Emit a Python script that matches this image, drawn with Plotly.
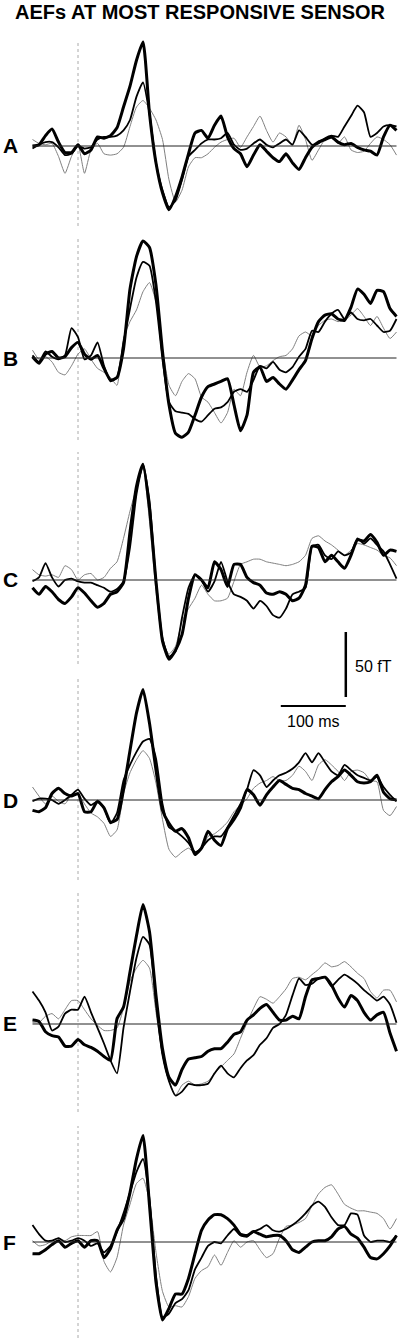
import plotly.graph_objects as go

# ---------------- data (fT, sampled every 10 ms from -70 to 490 ms) ----------------
TIME_MS = list(range(-70, 491, 10))

A_THICK = [0, 1, 8, 13, 3, -5, -5, 1, -6, -3,
           7, 6, 8, 14, 30, 46, 66, 80, 25, -13,
           -36, -49, -39, -24, -6, 10, 12, 6, 16, 23,
           7, -2, -6, -16, -7, 1, -4, -9, -12, -6,
           -13, -18, -9, -1, 3, 5, 7, 3, 1, 2,
           -1, -3, -4, -7, 7, 16, 12]
A_MED = [-2, 1, 3, 3, -1, -7, -6, 0, -2, -1,
         5, 7, 7, 8, 12, 20, 38, 49, 25, -13,
         -34, -47, -42, -26, -8, -3, 2, 5, 5, 6,
         10, 1, -3, -2, 2, 5, 1, -1, 2, 5,
         1, 12, 7, 1, 2, 6, 8, 7, 15, 23,
         31, 26, 7, 10, 15, 16, 15]
A_THIN = [5, 2, 1, 2, -8, -21, -8, 1, -21, -3,
          2, -6, -7, -6, -1, 15, 30, 35, 29, 20,
          5, -26, -43, -34, -16, -9, -9, -6, -1, 3,
          5, 6, -1, 7, 15, 23, 12, 3, 10, 7,
          1, 16, 5, -11, -3, 5, 6, 2, 7, -3,
          -5, -4, 2, 7, 5, 1, -7]

B_THICK = [1, -4, 3, 5, 0, 1, 8, 12, 3, -1,
           2, -8, -17, -15, 7, 53, 78, 90, 85, 56,
           5, -36, -58, -61, -57, -44, -30, -22, -20, -18,
           -16, -36, -56, -44, -11, -7, -18, -15, -20, -24,
           -17, -9, -2, 15, 28, 33, 34, 30, 29, 39,
           53, 49, 42, 52, 51, 38, 32]
B_MED = [2, -3, 5, 1, -1, 2, 23, 16, -1, 2,
         12, -6, -18, -15, 12, 38, 62, 74, 71, 43,
         -1, -34, -41, -42, -43, -47, -49, -44, -39, -38,
         -34, -26, -24, -26, -17, -6, -8, -3, -9, -11,
         -7, 1, 7, 21, 20, 28, 34, 37, 30, 35,
         30, 29, 30, 25, 20, 21, 30]
B_THIN = [6, -1, 1, -3, -11, -13, -6, 3, 7, -1,
          -8, -11, -15, -21, 15, 28, 37, 51, 58, 43,
          7, -21, -29, -18, -12, -16, -30, -34, -42, -50,
          -42, -24, -29, -11, 2, -7, -6, -2, 1, 2,
          7, 17, 20, 17, 25, 29, 30, 28, 29, 33,
          38, 32, 25, 32, 23, 15, 20]

C_THICK = [-6, -11, -5, -9, -15, -18, -13, -6, -10, -16,
           -21, -18, -11, -9, -2, 37, 72, 89, 55, -1,
           -47, -61, -54, -42, -14, 4, 0, -6, 14, 8,
           -5, 12, 12, 2, -2, -4, -10, -11, -9, -11,
           -16, -14, -4, 26, 25, 14, 19, 14, 9, 19,
           31, 30, 35, 29, 19, 23, 22]
C_MED = [-1, 2, 13, 2, -5, 0, 1, -1, -2, -2,
         -4, -6, -9, -7, -1, 25, 66, 89, 61, -1,
         -45, -59, -55, -29, -6, 4, 0, -9, -1, 14,
         -1, -11, -13, -16, -22, -16, -20, -27, -29, -22,
         -11, -9, -6, 26, 27, 19, 16, 22, 19, 21,
         32, 28, 32, 27, 22, 12, 1]
C_THIN = [8, 4, 3, 4, 2, 11, 8, 0, 4, 5,
          0, 2, 9, 14, 32, 53, 71, 87, 45, -9,
          -47, -57, -51, -32, -22, -14, -4, -11, -16, -16,
          -14, -1, 12, 14, 16, 16, 14, 13, 12, 11,
          12, 14, 19, 32, 34, 30, 27, 23, 19, 23,
          28, 27, 25, 23, 19, 17, 11]

D_THICK = [-8, -9, -6, 5, 9, 5, 3, 5, -9, -9,
           -1, -6, -17, -15, 8, 38, 67, 85, 59, 23,
           -8, -18, -24, -22, -29, -42, -37, -24, -31, -35,
           -22, -15, -6, 8, 4, -4, 4, 10, 15, 12,
           9, 8, 5, 3, 1, 8, 14, 18, 23, 19,
           14, 13, 14, 19, 6, 1, 0]
D_MED = [-1, 1, 1, 0, -3, 0, 4, 8, 1, -4,
         -1, -6, -18, -10, 15, 27, 37, 45, 47, 32,
         -3, -21, -24, -28, -33, -40, -37, -31, -28, -28,
         -21, -12, -3, 8, 23, 19, 10, 15, 19, 21,
         24, 29, 36, 29, 36, 29, 22, 19, 27, 23,
         19, 17, 15, 18, 10, 4, -1]
D_THIN = [10, 3, -3, 3, -1, -3, 4, 5, -3, -10,
          -13, -18, -28, -23, 5, 21, 31, 38, 32, 13,
          -15, -38, -44, -40, -37, -41, -38, -28, -26, -22,
          -17, -9, -4, 1, 9, 13, 15, 18, 15, 15,
          19, 26, 22, 15, 27, 31, 27, 22, 15, 22,
          23, 21, 15, 14, -8, -12, -5]

E_THICK = [3, 2, -6, -9, -10, -17, -17, -12, -16, -18,
           -21, -25, -28, 4, 13, 40, 68, 92, 71, 22,
           -19, -41, -47, -35, -27, -26, -25, -21, -19, -19,
           -14, -8, -6, 3, 7, 12, 15, 9, 3, 3,
           6, 4, 21, 34, 35, 36, 30, 20, 13, 22,
           18, 9, 3, 7, 9, -7, -21]
E_MED = [25, 18, 9, -5, -2, 8, 11, 11, 21, 9,
         -3, -15, -28, -38, -3, 25, 51, 67, 61, 15,
         -24, -44, -55, -52, -46, -47, -47, -46, -38, -32,
         -38, -41, -34, -28, -24, -16, -11, -3, 0, 7,
         22, 35, 30, 31, 35, 36, 29, 34, 38, 35,
         31, 26, 22, 18, 21, 15, 1]
E_THIN = [1, 1, 6, 8, 4, 11, 18, 18, 11, 4,
          -1, -5, -5, -3, 12, 33, 43, 49, 43, 9,
          -24, -44, -55, -47, -44, -47, -46, -44, -38, -33,
          -28, -23, -11, 1, 12, 21, 19, 16, 21, 27,
          35, 36, 34, 38, 42, 47, 44, 45, 48, 44,
          39, 35, 25, 20, 26, 26, 17]

F_THICK = [-9, -9, -6, -2, 1, -4, -1, 1, -4, 1,
           1, -12, -5, 9, 18, 38, 64, 82, 28, -31,
           -60, -51, -40, -40, -28, -9, 9, 17, 21, 21,
           18, 13, 6, 5, 8, 6, 4, 5, 5, 1,
           -6, -8, -4, 0, 1, 1, 4, 10, 12, 6,
           3, -4, -12, -13, -9, -3, 5]
F_MED = [13, 6, 1, 1, 3, 0, 1, 3, 1, -3,
         -1, -8, -3, 8, 22, 38, 54, 64, 33, -26,
         -58, -55, -47, -44, -37, -21, -12, -3, 0, -1,
         5, 10, 5, 4, 8, 10, 13, 9, 8, 10,
         13, 17, 22, 28, 31, 27, 19, 13, 13, 22,
         21, 5, 0, 1, 1, 0, 5]
F_THIN = [1, -3, -2, 1, 3, 1, 4, 5, 5, 5,
          8, -15, -23, -12, 13, 29, 45, 49, 31, -8,
          -38, -50, -49, -50, -42, -28, -22, -19, -10, -18,
          -8, 1, -4, 0, 1, -6, -12, -9, 3, 12,
          13, 15, 18, 28, 37, 42, 44, 37, 29, 26,
          24, 24, 23, 22, 18, 10, 18]

LABELS = ["A", "B", "C", "D", "E", "F"]
PANELS = [
    (A_THICK, A_MED, A_THIN),
    (B_THICK, B_MED, B_THIN),
    (C_THICK, C_MED, C_THIN),
    (D_THICK, D_MED, D_THIN),
    (E_THICK, E_MED, E_THIN),
    (F_THICK, F_MED, F_THIN),
]
TITLE = "AEFs AT MOST RESPONSIVE SENSOR"
SCALE_MS = 100
SCALE_FT = 50

# ---------------- layout constants (pixels) ----------------
W, H = 400, 1338
PX_PER_MS = 0.65
PX_PER_FT = 1.3
ONSET_PX = 78
BASE_PX = [146, 358, 580, 800, 1024, 1242]
DOMAIN_PX = [(30, 232), (232, 446), (446, 670), (670, 886), (886, 1119), (1119, 1338)]
DOTTED_PX = [(40, 226), (238, 440), (452, 664), (676, 880), (893, 1112), (1126, 1338)]
FONT = "Liberation Sans, Arial, Helvetica, sans-serif"


def pf(px):
    return 1 - px / H


fig = go.Figure()
layout = dict(
    width=W, height=H,
    margin=dict(l=0, r=0, t=0, b=0),
    paper_bgcolor="white", plot_bgcolor="white",
    showlegend=False,
    xaxis=dict(range=[-ONSET_PX / PX_PER_MS, (W - ONSET_PX) / PX_PER_MS],
               domain=[0, 1], visible=False, fixedrange=True),
)
shapes = []
annotations = []

for i, (thick, med, thin) in enumerate(PANELS):
    ya = "y" if i == 0 else f"y{i + 1}"
    yname = "yaxis" if i == 0 else f"yaxis{i + 1}"
    top, bot = DOMAIN_PX[i]
    base = BASE_PX[i]
    layout[yname] = dict(domain=[pf(bot), pf(top)],
                         range=[-(bot - base) / PX_PER_FT, (base - top) / PX_PER_FT],
                         visible=False, anchor="x", fixedrange=True)
    dtop, dbot = DOTTED_PX[i]
    shapes.append(dict(type="line", xref="x", yref=ya, x0=0, x1=0,
                       y0=-(dbot - base) / PX_PER_FT, y1=(base - dtop) / PX_PER_FT,
                       line=dict(color="#aaaaaa", width=1, dash="dot"), layer="below"))
    shapes.append(dict(type="line", xref="x", yref=ya, x0=TIME_MS[0], x1=TIME_MS[-1],
                       y0=0, y1=0, line=dict(color="#222222", width=1), layer="above"))
    for vals, col, w in [(thin, "#808080", 1), (med, "#000000", 1.8), (thick, "#000000", 3)]:
        fig.add_trace(go.Scatter(x=TIME_MS, y=vals, xaxis="x", yaxis=ya, mode="lines",
                                 line=dict(color=col, width=w, shape="spline", smoothing=0.5),
                                 hoverinfo="skip", showlegend=False))
    annotations.append(dict(text=f"<b>{LABELS[i]}</b>", xref="paper", x=1 / W, xanchor="left",
                            yref=ya, y=0, yanchor="middle", showarrow=False,
                            font=dict(family=FONT, size=21, color="black")))

# scale bars
bar_end_ms = 412
bar_y_px = 706
vbar_bottom_px = 697
shapes.append(dict(type="line", xref="x", yref="paper", x0=bar_end_ms - SCALE_MS, x1=bar_end_ms,
                   y0=pf(bar_y_px), y1=pf(bar_y_px), line=dict(color="black", width=2)))
shapes.append(dict(type="line", xref="x", yref="paper", x0=bar_end_ms, x1=bar_end_ms,
                   y0=pf(vbar_bottom_px), y1=pf(vbar_bottom_px - SCALE_FT * PX_PER_FT),
                   line=dict(color="black", width=2.5)))
annotations.append(dict(text=f"{SCALE_FT} fT", xref="paper", x=353 / W, xanchor="left",
                        yref="paper", y=pf(667), yanchor="middle", showarrow=False,
                        font=dict(family=FONT, size=16, color="black")))
annotations.append(dict(text=f"{SCALE_MS} ms", xref="x", x=bar_end_ms - SCALE_MS / 2,
                        xanchor="center", yref="paper", y=pf(721), yanchor="middle",
                        showarrow=False, font=dict(family=FONT, size=16, color="black")))
annotations.append(dict(text=f"<b>{TITLE}</b>", xref="paper", x=0.5, xanchor="center",
                        yref="paper", y=pf(12), yanchor="middle", showarrow=False,
                        borderpad=0, font=dict(family=FONT, size=20, color="black")))

layout["shapes"] = shapes
layout["annotations"] = annotations
fig.update_layout(**layout)

for arr in [a for p in PANELS for a in p]:
    assert len(arr) == len(TIME_MS), len(arr)

fig.write_html("out.html", config={"displayModeBar": False},
               post_script="document.body.style.margin='0';document.body.style.overflow='hidden';")
